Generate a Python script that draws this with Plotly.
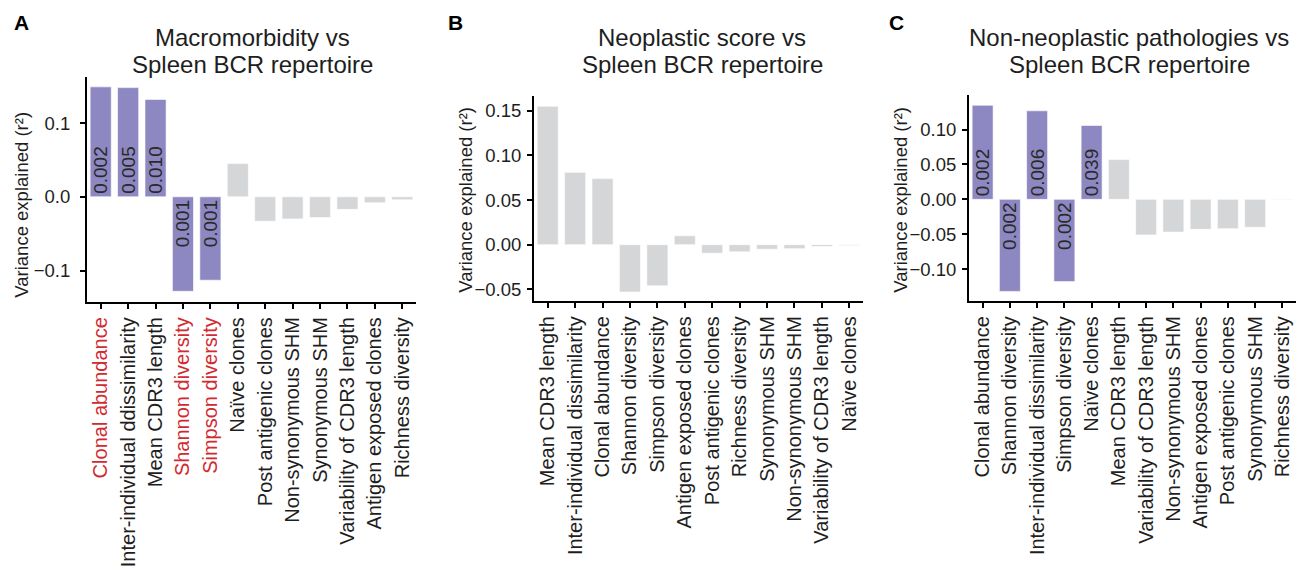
import plotly.graph_objects as go

W, H = 1296, 567

# ---------------- data ----------------
cats_a = ["Clonal abundance", "Inter-individual ddissimilarity", "Mean CDR3 length",
          "Shannon diversity", "Simpson diversity", "Naïve clones", "Post antigenic clones",
          "Non-synonymous SHM", "Synonymous SHM", "Variability of CDR3 length",
          "Antigen exposed clones", "Richness diversity"]
vals_a = [0.149, 0.148, 0.132, -0.128, -0.113, 0.045, -0.033, -0.030, -0.028, -0.017, -0.008, -0.004]
pvals_a = ["0.002", "0.005", "0.010", "0.001", "0.001", "", "", "", "", "", "", ""]
sig_a = [True, True, True, True, True, False, False, False, False, False, False, False]
red_a = [True, False, False, True, True, False, False, False, False, False, False, False]

cats_b = ["Mean CDR3 length", "Inter-individual dissimilarity", "Clonal abundance",
          "Shannon diversity", "Simpson diversity", "Antigen exposed clones",
          "Post antigenic clones", "Richness diversity", "Synonymous SHM",
          "Non-synonymous SHM", "Variability of CDR3 length", "Naïve clones"]
vals_b = [0.155, 0.081, 0.074, -0.053, -0.046, 0.010, -0.0095, -0.008, -0.005, -0.0045, -0.002, -0.001]
pvals_b = ["", "", "", "", "", "", "", "", "", "", "", ""]
sig_b = [False] * 12
red_b = [False] * 12

cats_c = ["Clonal abundance", "Shannon diversity", "Inter-individual dissimilarity",
          "Simpson diversity", "Naïve clones", "Mean CDR3 length",
          "Variability of CDR3 length", "Non-synonymous SHM", "Antigen exposed clones",
          "Post antigenic clones", "Synonymous SHM", "Richness diversity"]
vals_c = [0.135, -0.132, 0.127, -0.118, 0.106, 0.057, -0.051, -0.047, -0.043, -0.042, -0.040, -0.0006]
pvals_c = ["0.002", "0.002", "0.006", "0.002", "0.039", "", "", "", "", "", "", ""]
sig_c = [True, True, True, True, True, False, False, False, False, False, False, False]
red_c = [False] * 12

titles = [("Macromorbidity vs", "Spleen BCR repertoire"),
          ("Neoplastic score vs", "Spleen BCR repertoire"),
          ("Non-neoplastic pathologies vs", "Spleen BCR repertoire")]
letters = ["A", "B", "C"]
yticks_a = [-0.1, 0.0, 0.1]
yticks_b = [-0.05, 0.0, 0.05, 0.10, 0.15]
yticks_c = [-0.10, -0.05, 0.0, 0.05, 0.10]

# ---------------- style / layout ----------------
PURPLE = "#8d87c2"
GREY = "#d5d6d8"
RED = "#d22a30"
TXT = "#1e1e1e"
FONT = "Liberation Sans, Arial, sans-serif"

panels = [
    dict(cats=cats_a, vals=vals_a, pv=pvals_a, sig=sig_a, red=red_a, yt=yticks_a, fmt=".1f",
         px=(87, 416), py=(78, 307), yr=[-0.1427, 0.1627], title_x=252, ytitle=(22, 208),
         letter=(21, 23), standoff=6),
    dict(cats=cats_b, vals=vals_b, pv=pvals_b, sig=sig_b, red=red_b, yt=yticks_b, fmt=".2f",
         px=(534, 863), py=(98, 306), yr=[-0.0632, 0.166], title_x=702, ytitle=(466, 203),
         letter=(455, 23), standoff=2),
    dict(cats=cats_c, vals=vals_c, pv=pvals_c, sig=sig_c, red=red_c, yt=yticks_c, fmt=".2f",
         px=(969, 1296), py=(97, 306), yr=[-0.146, 0.149], title_x=1129, ytitle=(901, 203),
         letter=(896, 23), standoff=2),
]

fig = go.Figure()
annotations = []
layout_axes = {}

for i, p in enumerate(panels):
    n = "" if i == 0 else str(i + 1)
    xa, ya = "x" + n, "y" + n
    colors = [PURPLE if s else GREY for s in p["sig"]]
    fig.add_trace(go.Bar(
        x=p["cats"], y=p["vals"], xaxis=xa, yaxis=ya,
        marker=dict(color=colors, line=dict(color="rgba(255,255,255,0.6)", width=1)),
        text=p["pv"], textposition="inside", insidetextanchor="start",
        textangle=-90, constraintext="none",
        textfont=dict(family=FONT, size=19, color="#2a2a2a"),
        hoverinfo="x+y", showlegend=False,
    ))
    ticktext = [f'<span style="color:{RED}">{c}</span>' if r else c
                for c, r in zip(p["cats"], p["red"])]
    layout_axes["xaxis" + n] = dict(
        domain=[p["px"][0] / W, p["px"][1] / W], anchor=ya,
        type="category", range=[-0.5, 11.5],
        tickmode="array", tickvals=p["cats"], ticktext=ticktext,
        tickangle=-90, ticks="outside", ticklen=5, tickwidth=1.5, tickcolor="black",
        showline=True, linecolor="black", linewidth=2, showgrid=False, zeroline=False,
        tickfont=dict(family=FONT, size=20, color=TXT), fixedrange=True,
    )
    layout_axes["yaxis" + n] = dict(
        domain=[1 - p["py"][1] / H, 1 - p["py"][0] / H], anchor=xa,
        range=p["yr"], tickmode="array", tickvals=p["yt"], tickformat=p["fmt"],
        ticks="outside", ticklen=5, tickwidth=1.5, tickcolor="black",
        ticklabelstandoff=p["standoff"],
        showline=True, linecolor="black", linewidth=2, showgrid=False, zeroline=False,
        tickfont=dict(family=FONT, size=18.5, color=TXT), fixedrange=True,
    )
    for j, (line, ypx) in enumerate(zip(titles[i], (38, 66))):
        annotations.append(dict(
            text=line, xref="paper", yref="paper", x=p["title_x"] / W, y=1 - ypx / H,
            xanchor="center", yanchor="middle", showarrow=False,
            font=dict(family=FONT, size=24, color=TXT)))
    annotations.append(dict(
        text="Variance explained (r²)", xref="paper", yref="paper",
        x=p["ytitle"][0] / W, y=1 - p["ytitle"][1] / H, xanchor="center", yanchor="middle",
        textangle=-90, showarrow=False, font=dict(family=FONT, size=18.5, color=TXT)))
    annotations.append(dict(
        text="<b>" + letters[i] + "</b>", xref="paper", yref="paper",
        x=p["letter"][0] / W, y=1 - p["letter"][1] / H, xanchor="center", yanchor="middle",
        showarrow=False, font=dict(family=FONT, size=21, color="black")))

fig.update_layout(
    width=W, height=H, autosize=False,
    margin=dict(l=0, r=0, t=0, b=0),
    paper_bgcolor="white", plot_bgcolor="white",
    bargap=0.23, annotations=annotations,
    **layout_axes,
)

fig.write_html("out.html", config={"displayModeBar": False},
               post_script="document.body.style.margin='0';")
